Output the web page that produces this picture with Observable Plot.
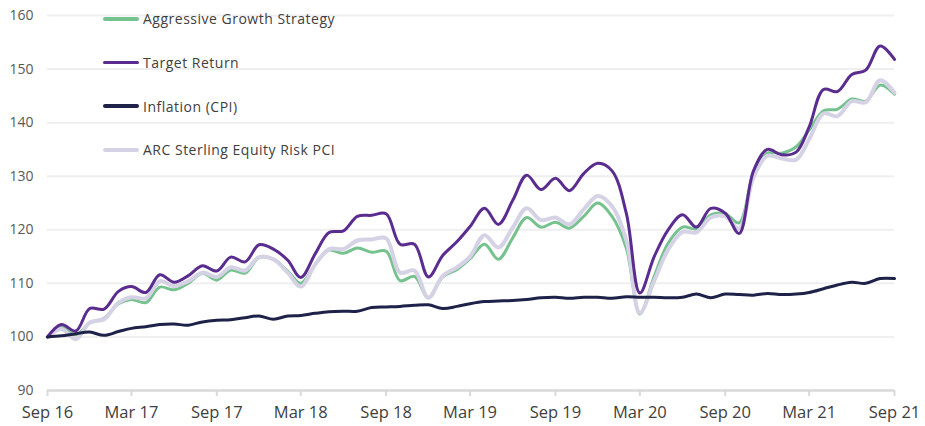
<!DOCTYPE html>
<html>
<head>
<meta charset="utf-8">
<script src="https://cdn.jsdelivr.net/npm/d3@7"></script>
<script src="https://cdn.jsdelivr.net/npm/@observablehq/plot@0.6"></script>
<style>
  html, body { margin: 0; padding: 0; background: #fff; }
  #wrap { position: relative; width: 925px; height: 426px; font-family: "Open Sans", sans-serif; }
  #legend { position: absolute; left: 103px; top: -3px; }
  .row { height: 43.7px; display: flex; align-items: center; }
  .sw { width: 36px; height: 3.5px; border-radius: 2px; margin-right: 4px; }
  .lab { font-size: 14px; letter-spacing: 0.5px; color: #404040; white-space: nowrap; }
</style>
</head>
<body>
<div id="wrap"><div id="legend"></div></div>
<script>
const seriesNames = ["Aggressive Growth Strategy", "Target Return", "Inflation (CPI)", "ARC Sterling Equity Risk PCI"];
const seriesColors = ["#76c28f", "#5b2c8f", "#1e2248", "#d4d2e4"];

const startMonth = new Date(Date.UTC(2016, 8, 1));
const endMonth = new Date(Date.UTC(2021, 8, 1));

const aggressive = [100,101.8,100.4,102.6,103.5,106.2,107.0,106.4,109.3,108.8,110.0,111.9,110.6,112.5,111.9,114.8,114.5,112.3,110.0,113.5,116.2,115.6,116.6,115.8,116.0,110.5,111.3,107.3,111.2,112.6,114.6,117.3,114.5,118.5,122.3,120.5,121.4,120.3,122.5,125.0,122.5,116.5,104.3,111.3,117.5,120.5,120.2,122.8,123.0,121.3,130.5,134.3,134.3,135.5,138.6,142.2,142.5,144.4,144.0,147.0,145.3];
const target = [100,102.3,101.1,105.3,105.2,108.5,109.4,108.3,111.6,110.2,111.4,113.3,112.3,114.9,114.0,117.2,116.4,114.3,111.1,115.5,119.5,119.8,122.5,122.7,123.0,117.3,117.3,111.2,115.2,117.8,120.6,124.0,121.0,125.5,130.2,127.5,129.6,127.3,130.5,132.4,131.0,123.0,108.2,115.0,120.0,122.8,120.5,124.0,123.1,119.3,131.0,135.0,134.0,134.5,139.2,146.2,145.8,149.0,149.8,154.3,151.8];
const cpi = [100,100.2,100.6,100.9,100.3,101.0,101.6,101.9,102.3,102.4,102.2,102.8,103.1,103.2,103.6,103.9,103.3,103.9,104.0,104.4,104.7,104.8,104.8,105.5,105.6,105.7,105.9,106.0,105.3,105.7,106.2,106.6,106.7,106.8,107.0,107.3,107.4,107.2,107.4,107.4,107.2,107.5,107.4,107.4,107.3,107.4,108.0,107.3,108.0,107.9,107.8,108.1,107.9,108.0,108.3,109.0,109.7,110.2,110.0,110.9,110.9];
const arc = [100,101.5,99.6,102.7,103.3,106.4,107.4,107.2,110.4,109.5,110.4,112.0,111.2,113.0,112.4,114.9,114.5,112.0,109.4,113.5,116.4,116.4,118.0,118.2,118.4,112.0,112.4,107.3,111.4,113.0,115.0,119.0,116.7,120.4,124.0,121.8,122.3,121.0,123.8,126.3,124.4,118.0,104.5,110.5,116.3,119.6,119.5,122.3,122.5,120.2,129.8,133.8,133.3,133.1,136.9,141.7,141.2,144.0,143.8,147.9,145.6];

const xTickLabels = ["Sep 16","Mar 17","Sep 17","Mar 18","Sep 18","Mar 19","Sep 19","Mar 20","Sep 20","Mar 21","Sep 21"];
const yTicks = [90,100,110,120,130,140,150,160];

const months = d3.utcMonth.range(startMonth, d3.utcMonth.offset(endMonth, 1));
const xTickDates = xTickLabels.map((_, i) => d3.utcMonth.offset(startMonth, 6 * i));

function rows(values) { return values.map((v, i) => ({date: months[i], value: v})); }

const lineOpts = (color, w) => ({x: "date", y: "value", stroke: color, strokeWidth: w, curve: "catmull-rom", strokeLinejoin: "round", strokeLinecap: "round"});

const chart = Plot.plot({
  width: 925,
  height: 426,
  marginLeft: 47,
  marginRight: 31,
  marginTop: 15,
  marginBottom: 36,
  style: {fontFamily: "Open Sans, sans-serif", background: "transparent"},
  x: {type: "utc", domain: [startMonth, endMonth]},
  y: {domain: [90, 160]},
  marks: [
    Plot.gridY(yTicks.filter(d => d > 90), {stroke: "#efefef", strokeOpacity: 1, strokeWidth: 2}),
    Plot.axisY(yTicks, {tickSize: 0, tickPadding: 14, label: null, fontSize: 14, fill: "#595959"}),
    Plot.ruleY([90], {stroke: "#d9d9d9", strokeWidth: 2.5}),
    Plot.axisX(xTickDates, {tickSize: 6, tickPadding: 10, stroke: "#d9d9d9", strokeWidth: 2, label: null, fontSize: 16.5, fill: "#404040", tickFormat: (d, i) => xTickLabels[i]}),
    Plot.line(rows(aggressive), lineOpts(seriesColors[0], 3)),
    Plot.line(rows(arc), lineOpts(seriesColors[3], 4)),
    Plot.line(rows(target), lineOpts(seriesColors[1], 3)),
    Plot.line(rows(cpi), lineOpts(seriesColors[2], 3))
  ]
});

const wrap = document.getElementById("wrap");
wrap.insertBefore(chart, wrap.firstChild);

const legend = document.getElementById("legend");
seriesNames.forEach((name, i) => {
  const row = document.createElement("div");
  row.className = "row";
  const sw = document.createElement("div");
  sw.className = "sw";
  sw.style.background = seriesColors[i];
  const lab = document.createElement("span");
  lab.className = "lab";
  lab.textContent = name;
  row.appendChild(sw);
  row.appendChild(lab);
  legend.appendChild(row);
});
</script>
</body>
</html>
